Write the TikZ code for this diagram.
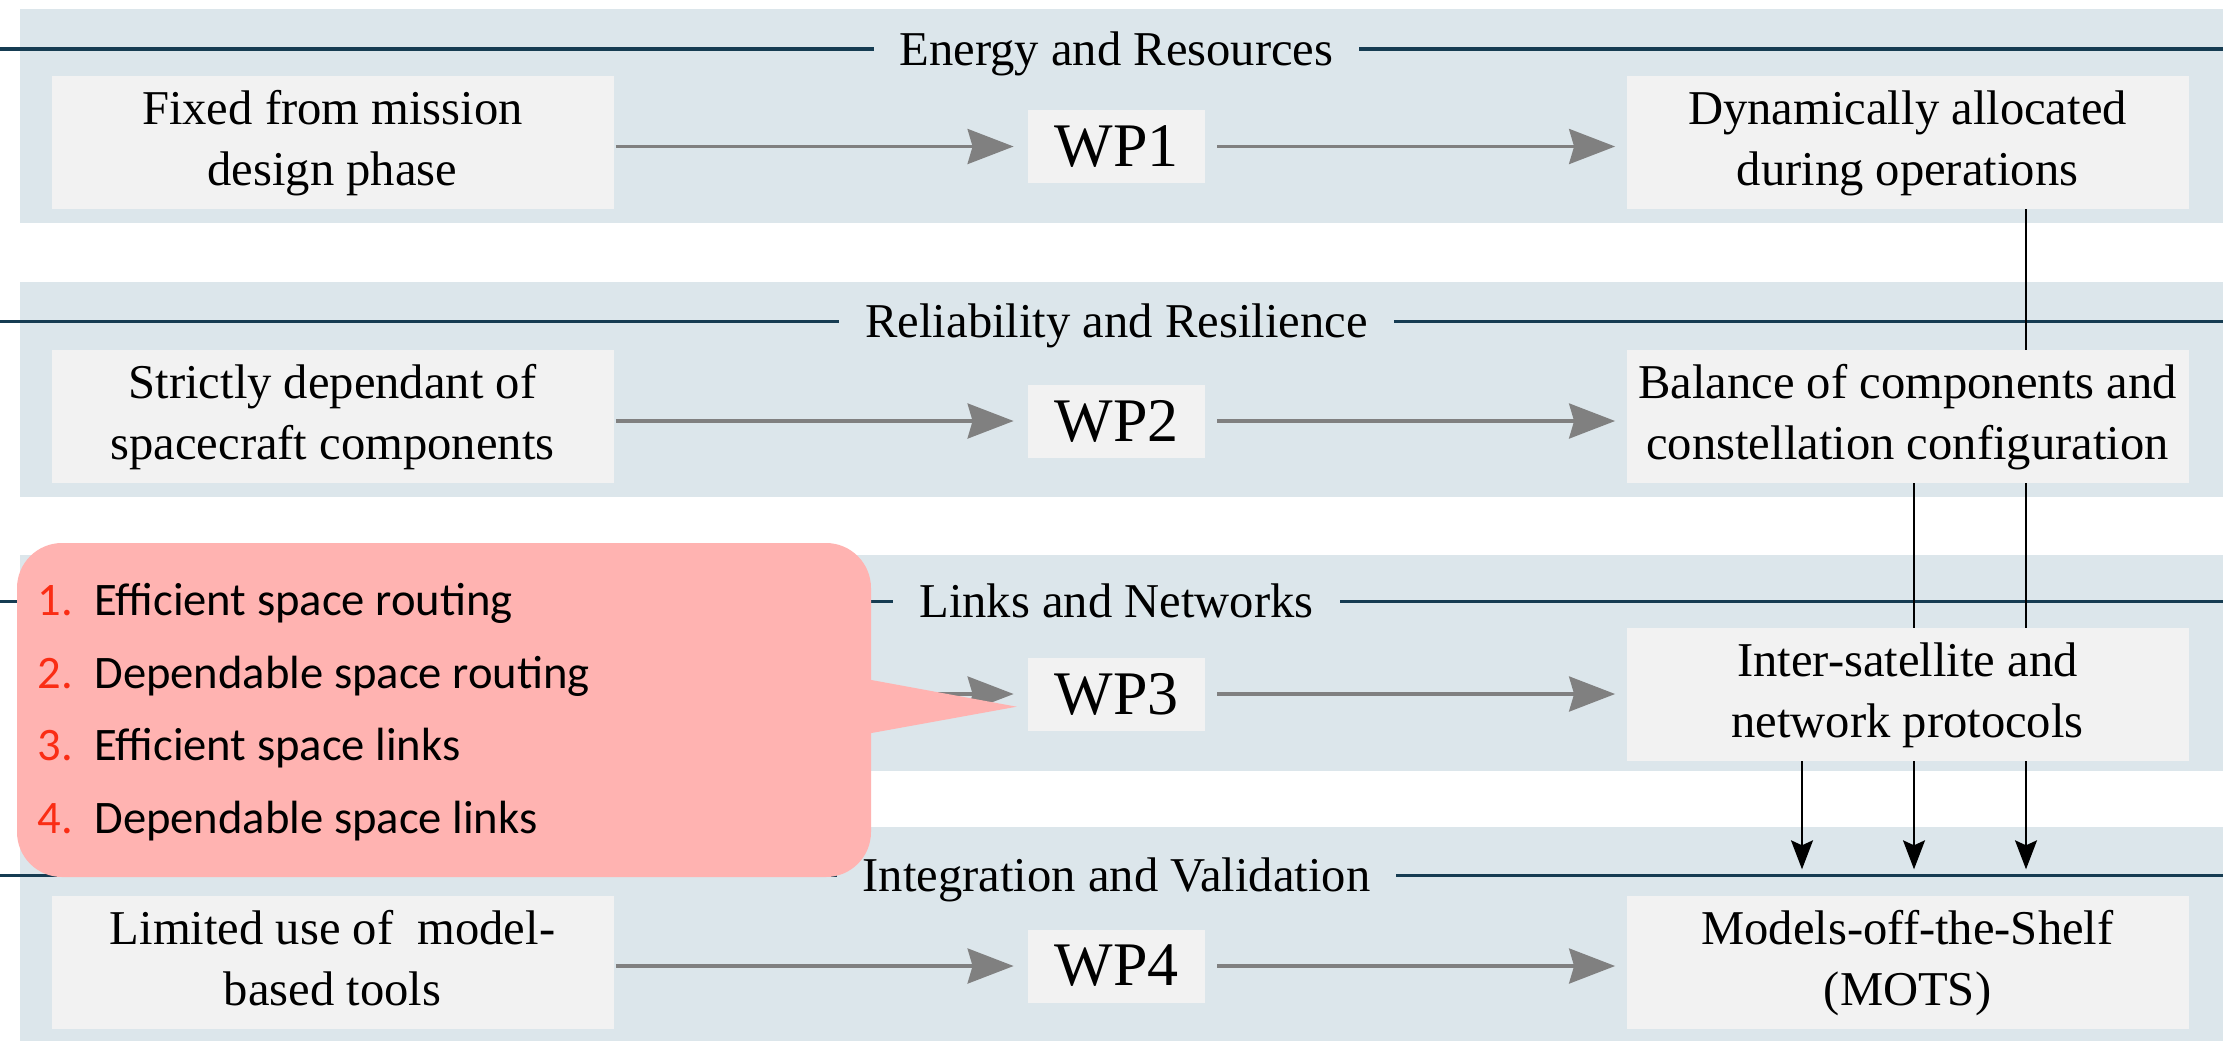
\documentclass[tikz,border=0pt]{standalone}
\usepackage{fontspec}
\setmainfont{Liberation Serif}
\newfontfamily\calloutfont{Carlito}
\usetikzlibrary{arrows.meta}
\definecolor{bandfill}{RGB}{220,230,235}
\definecolor{boxfill}{RGB}{242,242,242}
\definecolor{titleline}{RGB}{22,60,82}
\definecolor{arrowgray}{RGB}{128,128,128}
\definecolor{calloutfill}{RGB}{255,179,177}
\definecolor{numred}{RGB}{250,45,20}
\newcommand\boxtext[2]{\raisebox{-1.6pt}{\begin{tabular}{@{}c@{}}#1\\#2\end{tabular}}}
\begin{document}
\begin{tikzpicture}[x=0.5pt,y=-0.5pt,
  band/.style={fill=bandfill},
  tline/.style={draw=titleline,line width=1.55pt},
  ttext/.style={fill=bandfill,inner xsep=13pt,inner ysep=2pt,anchor=base,font=\fontsize{24.3}{28.5}\selectfont},
  sidebox/.style={fill=boxfill,minimum width=281pt,minimum height=66.5pt,inner sep=0pt,font=\fontsize{24.3}{30.5}\selectfont},
  wpbox/.style={fill=boxfill,minimum width=88.5pt,minimum height=36.5pt,inner sep=0pt,font=\fontsize{31}{36}\selectfont},
  grayarrow/.style={draw=arrowgray,line width=1.65pt,-{Stealth[length=23pt,width=17.5pt,inset=2.5pt]}},
  blackline/.style={draw=black,line width=0.85pt},
  blackarrow/.style={blackline,-{Stealth[length=14.5pt,width=11pt,inset=2.5pt]}},
  ctext/.style={anchor=base west,inner sep=0pt,font=\calloutfont\fontsize{23.3}{28}\selectfont}
]
\useasboundingbox (0,0) rectangle (2223,1040);
\fill[white] (0,0) rectangle (2223,1040);
% bands
\fill[band] (20,8.5) rectangle (2223,222.7);
\fill[band] (20,281.5) rectangle (2223,496.7);
\fill[band] (20,555) rectangle (2223,771);
\fill[band] (20,826.7) rectangle (2223,1045);
% title lines
\draw[tline] (0,49) -- (2223,49);
\draw[tline] (0,321.5) -- (2223,321.5);
\draw[tline] (0,601.7) -- (2223,601.7);
\draw[tline] (0,875.7) -- (2223,875.7);
% titles
\node[ttext] (t1) at (1116.5,65) {Energy and Resources};
\node[ttext] (t2) at (1116.5,337.5) {Reliability and Resilience};
\node[ttext] (t3) at (1116.5,617.7) {Links and Networks};
\node[ttext] (t4) at (1116.5,891.7) {Integration and Validation};
% left boxes
\node[sidebox] (L1) at (332.5,142.5) {\boxtext{Fixed from mission}{design phase}};
\node[sidebox] (L2) at (332.5,416.5) {\boxtext{Strictly dependant of}{spacecraft components}};
\node[sidebox] (L4) at (332.5,962.5) {\boxtext{Limited use of~ model-}{based tools}};
% WP boxes
\node[wpbox] (W1) at (1116.5,146.5) {WP1};
\node[wpbox] (W2) at (1116.5,421) {WP2};
\node[wpbox] (W3) at (1116.5,694) {WP3};
\node[wpbox] (W4) at (1116.5,966) {WP4};
% right boxes
\node[sidebox] (R1) at (1907.5,142.5) {\boxtext{Dynamically allocated}{during operations}};
\node[sidebox] (R2) at (1907.5,416.5) {\boxtext{Balance of components and}{constellation configuration}};
\node[sidebox] (R3) at (1907.5,694.5) {\boxtext{Inter-satellite and}{network protocols}};
\node[sidebox] (R4) at (1907.5,962.5) {\boxtext{Models-off-the-Shelf}{(MOTS)}};
% gray arrows
\draw[grayarrow,shorten <=1pt,shorten >=7pt] (W1.west -| L1.east) -- (W1.west);
\draw[grayarrow,shorten <=6pt,shorten >=5.5pt] (W1.east) -- (W1.east -| R1.west);
\draw[grayarrow,shorten <=1pt,shorten >=7pt] (W2.west -| L2.east) -- (W2.west);
\draw[grayarrow,shorten <=6pt,shorten >=5.5pt] (W2.east) -- (W2.east -| R2.west);
\coordinate (s3) at (614,694);
\draw[grayarrow,shorten <=1pt,shorten >=7pt] (s3) -- (W3.west);
\draw[grayarrow,shorten <=6pt,shorten >=5.5pt] (W3.east) -- (W3.east -| R3.west);
\draw[grayarrow,shorten <=1pt,shorten >=7pt] (W4.west -| L4.east) -- (W4.west);
\draw[grayarrow,shorten <=6pt,shorten >=5.5pt] (W4.east) -- (W4.east -| R4.west);
% vertical connectors
\coordinate (va) at (1802,0);
\coordinate (vb) at (1914,0);
\coordinate (vc) at (2026,0);
\coordinate (aend) at (0,869.3);
\draw[blackline] (R1.south -| vc) -- (R2.north -| vc);
\draw[blackline] (R2.south -| vb) -- (R3.north -| vb);
\draw[blackline] (R2.south -| vc) -- (R3.north -| vc);
\draw[blackarrow] (R3.south -| va) -- (va |- aend);
\draw[blackarrow] (R3.south -| vb) -- (vb |- aend);
\draw[blackarrow] (R3.south -| vc) -- (vc |- aend);
% callout
\fill[calloutfill,rounded corners=22.5pt] (17,543) rectangle (871,877);
\fill[calloutfill] (866,679) -- (1016.7,706.7) -- (866,734) -- cycle;
\node[ctext] (c1) at (37,615) {\makebox[28.5pt][l]{\color{numred}1.}Efficient space routing};
\node[ctext] (c2) at (37,688) {\makebox[28.5pt][l]{\color{numred}2.}Dependable space routing};
\node[ctext] (c3) at (37,760.5) {\makebox[28.5pt][l]{\color{numred}3.}Efficient space links};
\node[ctext] (c4) at (37,833) {\makebox[28.5pt][l]{\color{numred}4.}Dependable space links};
\end{tikzpicture}
\end{document}
